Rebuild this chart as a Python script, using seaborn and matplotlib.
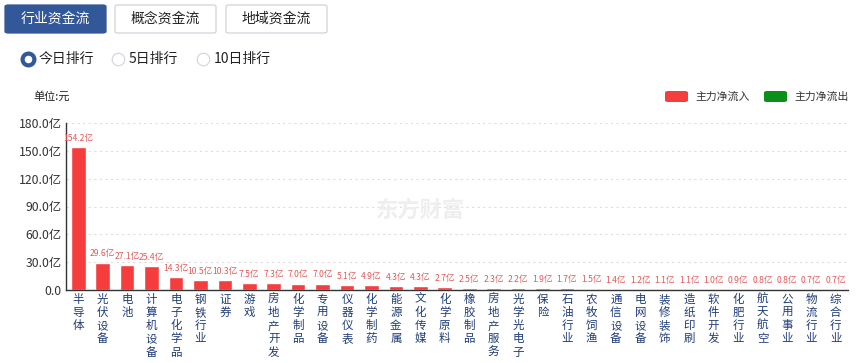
import numpy as np
import pandas as pd
import seaborn as sns
import matplotlib.pyplot as plt
from matplotlib.patches import FancyBboxPatch
from matplotlib.lines import Line2D

# industry net inflow today (unit: 亿)
industries = ['半导体', '光伏设备', '电池', '计算机设备', '电子化学品', '钢铁行业', '证券', '游戏',
              '房地产开发', '化学制品', '专用设备', '仪器仪表', '化学制药', '能源金属', '文化传媒',
              '化学原料', '橡胶制品', '房地产服务', '光学光电子', '保险', '石油行业', '农牧饲渔',
              '通信设备', '电网设备', '装修装饰', '造纸印刷', '软件开发', '化肥行业', '航天航空',
              '公用事业', '物流行业', '综合行业']
inflow = [154.2, 29.6, 27.1, 25.4, 14.3, 10.5, 10.3, 7.5, 7.3, 7.0, 7.0, 5.1, 4.9, 4.3, 4.3,
          2.7, 2.5, 2.3, 2.2, 1.9, 1.7, 1.5, 1.4, 1.2, 1.1, 1.1, 1.0, 0.9, 0.8, 0.8, 0.7, 0.7]
y_ticks = [0, 30, 60, 90, 120, 150, 180]

sns.set_style('white')
plt.rcParams['font.family'] = ['Noto Sans CJK SC', 'DejaVu Sans']

W, H = 863, 363
fig = plt.figure(figsize=(W / 100, H / 100), dpi=100)

def fx(x):
    return x / W

def fy(y):
    return 1 - y / H

# tab buttons
tabs = [('行业资金流', 5, True), ('概念资金流', 115, False), ('地域资金流', 226, False)]
for name, x0, active in tabs:
    box = FancyBboxPatch((fx(x0), fy(33)), fx(101), 28 / H,
                         boxstyle='round,pad=0,rounding_size=0.004',
                         transform=fig.transFigure,
                         facecolor='#32589a' if active else 'white',
                         edgecolor='#32589a' if active else '#cfd3da', linewidth=0.9)
    fig.add_artist(box)
    fig.text(fx(x0 + 50.5), fy(19), name, ha='center', va='center', fontsize=10,
             color='white' if active else '#222222')

# radio buttons
radios = [('今日排行', 28, True), ('5日排行', 118, False), ('10日排行', 203, False)]
for name, x0, on in radios:
    if on:
        fig.add_artist(Line2D([fx(x0)], [fy(59)], marker='o', markersize=8.5,
                              markerfacecolor='white', markeredgecolor='#32589a',
                              markeredgewidth=3, transform=fig.transFigure))
    else:
        fig.add_artist(Line2D([fx(x0)], [fy(59)], marker='o', markersize=9,
                              markerfacecolor='white', markeredgecolor='#d5d8de',
                              markeredgewidth=0.9, transform=fig.transFigure))
    fig.text(fx(x0 + 11), fy(59), name, ha='left', va='center', fontsize=10, color='#222222')

fig.text(fx(33), fy(96), '单位:元', ha='left', va='center', fontsize=8, color='#222222')

# legend
for name, x0, c in [('主力净流入', 665, '#f53d3d'), ('主力净流出', 764, '#0a8f1a')]:
    fig.add_artist(FancyBboxPatch((fx(x0), fy(102)), fx(23), 11 / H,
                                  boxstyle='round,pad=0,rounding_size=0.004',
                                  transform=fig.transFigure, facecolor=c, edgecolor='none'))
    fig.text(fx(x0 + 30), fy(96.5), name, ha='left', va='center', fontsize=7.8, color='#333333')

# watermark
fig.text(fx(420), fy(210), '东方财富', ha='center', va='center', fontsize=16,
         fontweight='bold', color='#eeeeee', zorder=0)

ax = fig.add_axes([fx(66), fy(290), fx(848) - fx(66), (290 - 123) / H])
df = pd.DataFrame({'industry': industries, 'inflow': inflow})
sns.barplot(data=df, x='industry', y='inflow', color='#f53d3d', saturation=1,
            width=0.6, ax=ax)
ax.bar_label(ax.containers[0], labels=[f'{v}亿' for v in inflow], padding=3,
             fontsize=6.2, color='#e05a5a')

ax.set_ylim(0, 180)
ax.set_xlim(-0.5, len(industries) - 0.5)
ax.set_yticks(y_ticks)
ax.set_yticklabels(['0.0'] + [f'{v:.1f}亿' for v in y_ticks[1:]], fontsize=8.8, color='#333333')
ax.set_xticks(range(len(industries)))
ax.set_xticklabels(['\n'.join(s) for s in industries], fontsize=8.3, color='#1f3d7a',
                   linespacing=1.02, va='top')
ax.tick_params(axis='both', length=0, pad=3)
ax.tick_params(axis='x', pad=2)
ax.set_xlabel('')
ax.set_ylabel('')
ax.yaxis.grid(True, linestyle=(0, (2, 3)), color='#dddddd', linewidth=0.8)
ax.set_axisbelow(True)
for side in ['top', 'right']:
    ax.spines[side].set_visible(False)
for side in ['left', 'bottom']:
    ax.spines[side].set_color('#333333')
    ax.spines[side].set_linewidth(1)
ax.patch.set_alpha(0)

fig.savefig('out.png', dpi=100)
